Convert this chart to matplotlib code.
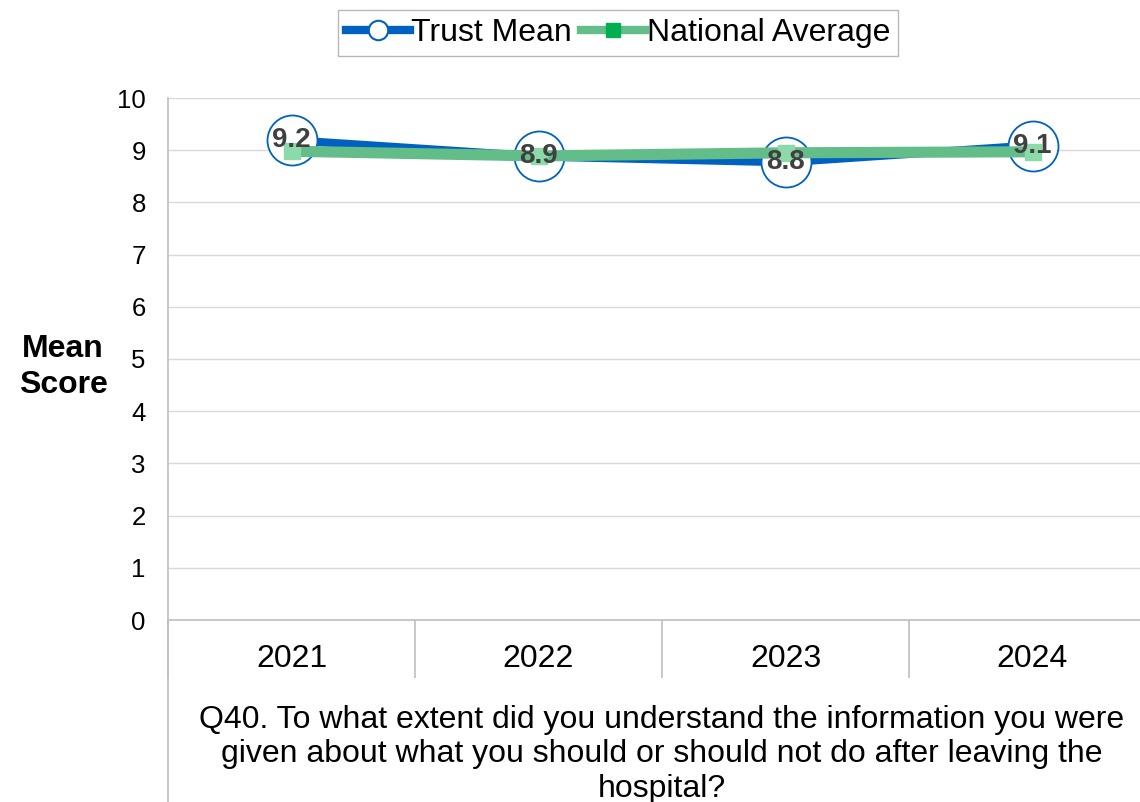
import matplotlib.pyplot as plt
from matplotlib.lines import Line2D

plt.rcParams['font.family'] = ['Liberation Sans', 'DejaVu Sans']

# data
years = ['2021', '2022', '2023', '2024']
trust_mean = [9.19, 8.88, 8.77, 9.09]
trust_labels = ['9.2', '8.9', '8.8', '9.1']
national_avg = [8.98, 8.89, 8.95, 8.97]
y_ticks = list(range(0, 11))
question = ('Q40. To what extent did you understand the information you were\n'
            'given about what you should or should not do after leaving the\n'
            'hospital?')

blue = '#0061c1'
green = '#62bd88'
green_marker = '#8cd9aa'
grid_grey = '#d9d9d9'
axis_grey = '#bfbfbf'

W, H = 1140, 802
fig = plt.figure(figsize=(W / 100, H / 100), dpi=100)
# plot area in pixels: left 168, right 1156 (runs past the figure edge), top 98, bottom 620
ax = fig.add_axes([168 / W, (H - 620) / H, 988 / W, 522 / H])

x = list(range(len(years)))

ax.plot(x, trust_mean, color=blue, linewidth=6, marker='o', markersize=36,
        markerfacecolor='white', markeredgecolor=blue, markeredgewidth=1.3,
        zorder=3, solid_joinstyle='miter')
ax.plot(x, national_avg, color=green, linewidth=8, marker='s', markersize=11,
        markerfacecolor=green_marker, markeredgecolor=green_marker,
        zorder=4)

for xi, v, lab in zip(x, trust_mean, trust_labels):
    ax.text(xi, v, lab, ha='center', va='center', fontsize=20,
            fontweight='bold', color='#404040', zorder=5)

ax.set_xlim(-0.5, len(years) - 0.5)
ax.set_ylim(0, 10)
ax.set_yticks(y_ticks)
ax.set_yticklabels([str(t) for t in y_ticks], fontsize=18.5)
ax.set_xticks(x)
ax.set_xticklabels(years, fontsize=23)
ax.tick_params(axis='y', length=0, pad=16)
ax.tick_params(axis='x', length=0, pad=17)

ax.yaxis.grid(True, color=grid_grey, linewidth=1)
ax.set_axisbelow(True)
for side in ['top', 'right']:
    ax.spines[side].set_visible(False)
ax.spines['bottom'].set_color(axis_grey)
ax.spines['left'].set_color(axis_grey)
ax.spines['bottom'].set_linewidth(1.2)
ax.spines['left'].set_linewidth(1.2)

# multi-level category axis separators
xt = ax.get_xaxis_transform()
bounds = [i - 0.5 for i in x]
ax.vlines(bounds, -58 / 522, 0, transform=xt, color=axis_grey,
          linewidth=1.2, clip_on=False)
ax.vlines([-0.5], -182 / 522, 0, transform=xt, color=axis_grey,
          linewidth=1.2, clip_on=False)

ax.text(0.5, -0.162, question, transform=ax.transAxes, ha='center', va='top',
        fontsize=23, linespacing=1.21)

fig.text(63 / W, 1 - 367 / H, 'Mean\nScore', ha='center', va='center',
         fontsize=23, fontweight='bold', linespacing=1.25)

handles = [
    Line2D([], [], color=blue, linewidth=6, marker='o', markersize=14,
           markerfacecolor='white', markeredgecolor=blue, markeredgewidth=1.5),
    Line2D([], [], color=green, linewidth=6, marker='s', markersize=10,
           markerfacecolor='#00b050', markeredgecolor='#00b050'),
]
fig.legend(handles, ['Trust Mean', 'National Average'], loc='center',
           bbox_to_anchor=(618 / W, 1 - 33 / H), ncol=2, fontsize=23,
           frameon=True, fancybox=False, edgecolor='#a6a6a6',
           handlelength=2.0, handletextpad=0.05, columnspacing=0.3,
           borderpad=0.25, borderaxespad=0)

fig.savefig('out.png', dpi=100)
